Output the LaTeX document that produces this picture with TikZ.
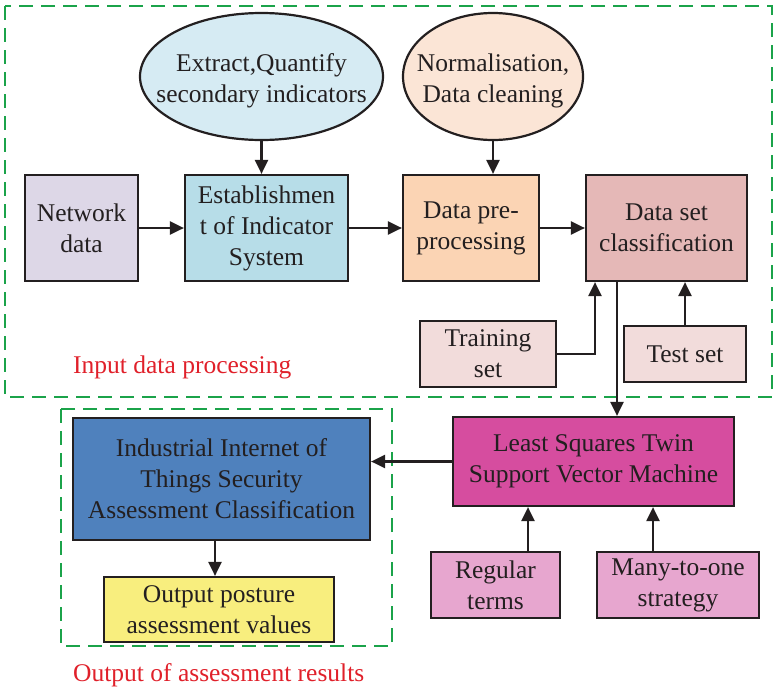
\documentclass[tikz,border=0pt]{standalone}
\usepackage{fontspec}
\setmainfont{Liberation Serif}
\usetikzlibrary{shapes.geometric,arrows.meta,calc}
\definecolor{txt}{HTML}{231F20}
\definecolor{grn}{HTML}{1BA34A}
\definecolor{redlab}{HTML}{E0202A}
\definecolor{cEllA}{HTML}{D6EBF3}
\definecolor{cEllB}{HTML}{FBE5D6}
\definecolor{cNet}{HTML}{DDD7E7}
\definecolor{cEst}{HTML}{B7DDE8}
\definecolor{cPre}{HTML}{FBD4B4}
\definecolor{cDsc}{HTML}{E5B8B7}
\definecolor{cSet}{HTML}{F2DCDB}
\definecolor{cLs}{HTML}{D64D9F}
\definecolor{cSub}{HTML}{E7A6CF}
\definecolor{cIi}{HTML}{4F81BD}
\definecolor{cOut}{HTML}{F8EE7E}
\tikzset{
  box/.style={draw=txt, line width=2.2pt, rectangle, inner sep=0pt, align=center, text=txt,
    font=\fontsize{25.5}{31}\selectfont},
  ell/.style={draw=txt, line width=2.2pt, ellipse, inner sep=0pt},
  etext/.style={inner sep=0pt, align=center, text=txt, font=\fontsize{25.5}{31}\selectfont},
  arr/.style={draw=txt, line width=2.2pt, -{Triangle[length=14pt,width=13pt]}},
  grp/.style={draw=grn, line width=2pt, dash pattern=on 14pt off 8pt},
  lab/.style={text=redlab, anchor=west, inner sep=0pt, font=\fontsize{25.5}{31}\selectfont}
}
\begin{document}
\begin{tikzpicture}[x=1pt,y=-1pt]
\useasboundingbox (0,0) rectangle (776,691);
% group frames
\draw[grp] (5,6) rectangle (772,397);
\draw[grp] (61,409) rectangle (392,646);
% ellipses
\node[ell, fill=cEllA, minimum width=243pt, minimum height=127pt] (eA) at (261.5,76.5) {};
\node[etext] (eAt) at ($(eA.center)+(0,4)$) {Extract,Quantify\\secondary indicators};
\node[ell, fill=cEllB, minimum width=180pt, minimum height=127pt] (eB) at (493,76.5) {};
\node[etext] (eBt) at ($(eB.center)+(0,4)$) {Normalisation,\\Data cleaning};
% top row
\node[box, fill=cNet, minimum width=113pt, minimum height=106pt] (net) at (81.5,228) {Network\\data};
\node[box, fill=cEst, minimum width=163pt, minimum height=106pt] (est) at (266.5,228) {Establishmen\\t of Indicator\\System};
\node[box, fill=cPre, minimum width=136pt, minimum height=106pt] (pre) at (471,228) {Data pre-\\processing};
\node[box, fill=cDsc, minimum width=161pt, minimum height=106pt] (dsc) at (666.5,228) {Data set\\classification};
% sets
\node[box, fill=cSet, minimum width=136pt, minimum height=66pt] (train) at (488,354) {Training\\set};
\node[box, fill=cSet, minimum width=122pt, minimum height=56pt] (test) at (685,354) {Test set};
% LSTSVM
\node[box, fill=cLs, minimum width=281pt, minimum height=89pt] (ls) at (593.5,461.5) {Least Squares Twin\\Support Vector Machine};
\node[box, fill=cSub, minimum width=129pt, minimum height=66pt] (reg) at (495.5,585) {Regular\\terms};
\node[box, fill=cSub, minimum width=162pt, minimum height=66pt] (many) at (678,585) {Many-to-one\\strategy};
% output
\node[box, fill=cIi, minimum width=297pt, minimum height=122pt] (ii) at (221.5,479) {Industrial Internet of\\Things Security\\Assessment Classification};
\node[box, fill=cOut, minimum width=230pt, minimum height=65pt] (out) at (219,609.5) {Output posture\\assessment values};
% labels
\node[lab] (l1) at (73,367) {Input data processing};
\node[lab] (l2) at (73,675) {Output of assessment results};
% helper coordinates
\coordinate (tx) at (595,0);
\coordinate (dx) at (617,0);
\coordinate (ix) at (215,0);
\coordinate (rx) at (528,0);
\coordinate (mx) at (653,0);
% connectors
\draw[arr] (eA.south) -- (est.north -| eA.south);
\draw[arr] (eB.south) -- (pre.north -| eB.south);
\draw[arr] (net.east) -- (est.west);
\draw[arr] (est.east) -- (pre.west);
\draw[arr] (pre.east) -- (dsc.west);
\draw[arr] (train.east) -| (dsc.south -| tx);
\draw[arr] (test.north) -- (dsc.south -| test.north);
\draw[arr] (dsc.south -| dx) -- (ls.north -| dx);
\draw[arr] (ls.west) -- (ii.east |- ls.west);
\draw[arr] (ii.south -| ix) -- (out.north -| ix);
\draw[arr] (reg.north -| rx) -- (ls.south -| rx);
\draw[arr] (many.north -| mx) -- (ls.south -| mx);
\end{tikzpicture}
\end{document}
